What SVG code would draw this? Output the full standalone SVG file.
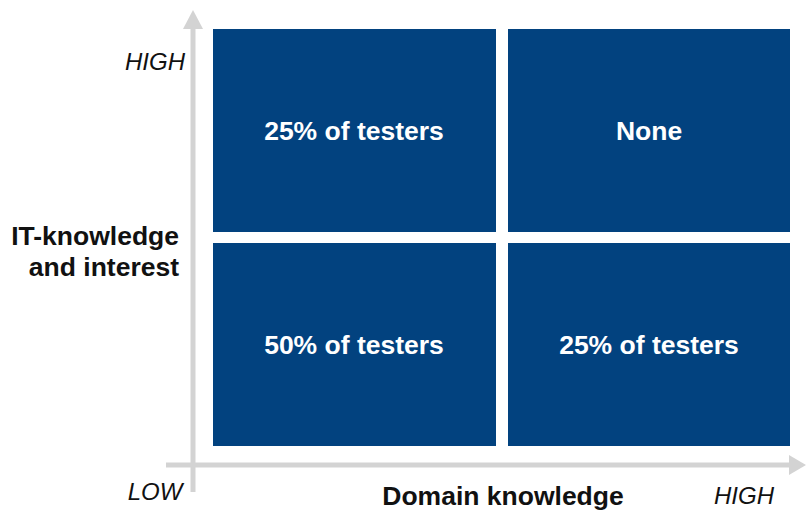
<svg xmlns="http://www.w3.org/2000/svg" width="806" height="511" viewBox="0 0 806 511">
<style>
.box{fill:#02427f}
.bl{font-family:"Liberation Sans",Arial,sans-serif;font-weight:bold;font-size:26.5px;fill:#fff;text-anchor:middle}
.ax{font-family:"Liberation Sans",Arial,sans-serif;font-style:italic;font-size:24px;fill:#111}
.lab{font-family:"Liberation Sans",Arial,sans-serif;font-weight:bold;font-size:26.5px;fill:#111}
.axis{stroke:#d3d3d3;stroke-width:5;fill:none}
</style>
<rect width="806" height="511" fill="#fff"/>
<g id="connectors">
<line class="axis" x1="193" y1="492" x2="193" y2="26"/>
<polygon points="193,10 183,29 203,29" fill="#d3d3d3"/>
<line class="axis" x1="166" y1="465" x2="792" y2="465"/>
<polygon points="806,465 789,455 789,475" fill="#d3d3d3"/>
</g>
<g id="q1"><rect class="box" x="213" y="29" width="283" height="203"/><text class="bl" x="354" y="140">25% of testers</text></g>
<g id="q2"><rect class="box" x="508" y="29" width="282" height="203"/><text class="bl" x="649" y="140">None</text></g>
<g id="q3"><rect class="box" x="213" y="243" width="283" height="203"/><text class="bl" x="354" y="354">50% of testers</text></g>
<g id="q4"><rect class="box" x="508" y="243" width="282" height="203"/><text class="bl" x="649" y="354">25% of testers</text></g>
<g id="labels">
<text class="ax" x="155" y="70" text-anchor="middle">HIGH</text>
<text class="ax" x="155" y="500" text-anchor="middle">LOW</text>
<text class="ax" x="744" y="504" text-anchor="middle">HIGH</text>
<text class="lab" x="503" y="505" text-anchor="middle">Domain knowledge</text>
<text class="lab" x="179" y="245" text-anchor="end">IT-knowledge</text>
<text class="lab" x="179" y="276" text-anchor="end">and interest</text>
</g>
</svg>
